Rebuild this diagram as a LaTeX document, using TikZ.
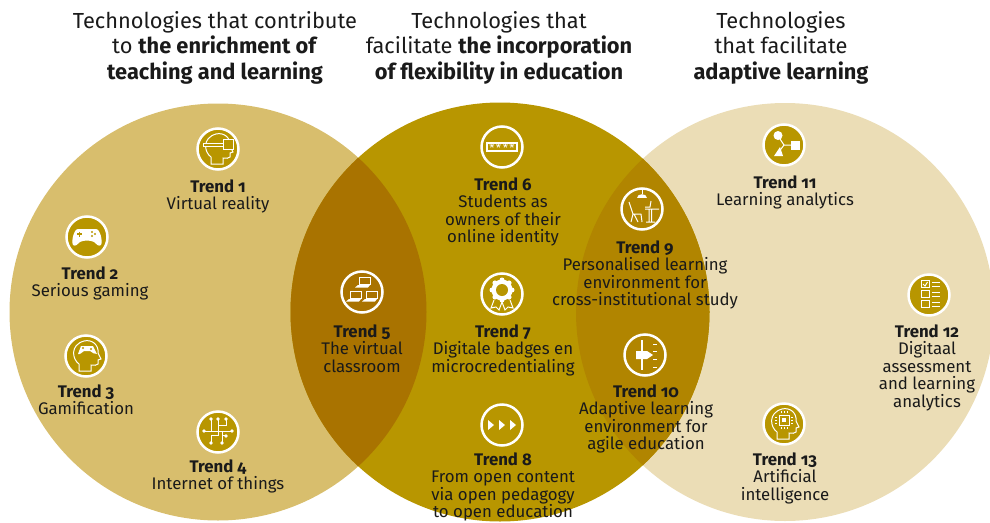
\documentclass[tikz,border=0pt]{standalone}
\usepackage{fontspec}
\setmainfont[Numbers=OldStyle]{Fira Sans}
\definecolor{goldl}{HTML}{D8BE6D}
\definecolor{goldm}{HTML}{B89600}
\definecolor{goldr}{HTML}{EBDDB6}
\definecolor{overl}{HTML}{A97300}
\definecolor{overr}{HTML}{B18500}
\definecolor{inkc}{HTML}{1A1A1A}
\newcommand{\headshape}{(-7,15) -- (-7,8) .. controls (-14,3) and (-16,-11) .. (-2,-15) .. controls (6,-17) and (13,-11) .. (12,-3) -- (15,3) -- (12,4) -- (12,8) .. controls (11,10) and (8,9) .. (5,9) -- (5,15) -- cycle}
\begin{document}
\begin{tikzpicture}[x=1pt,y=-1pt,
  lab/.style={anchor=north,align=center,inner sep=0pt,text=inkc,font=\fontsize{16.8}{17.5}\selectfont},
  title/.style={anchor=north,align=center,inner sep=0pt,text=inkc,font=\fontsize{21.8}{25.5}\selectfont},
  icon/.style={circle,draw=white,line width=2.5pt,minimum size=41pt,inner sep=0pt},
  wl/.style={draw=white,line width=1pt},
  wf/.style={fill=white}]
  \useasboundingbox (0,0) rectangle (990,522);

  % the three circles
  \fill[goldr] (785,312) circle (209pt);
  \fill[goldl] (218,312) circle (208.5pt);
  \fill[goldm] (500,312) circle (209.5pt);
  \begin{scope}
    \clip (218,312) circle (208.5pt);
    \fill[overl] (500,312) circle (209.5pt);
  \end{scope}
  \begin{scope}
    \clip (785,312) circle (209pt);
    \fill[overr] (500,312) circle (209.5pt);
  \end{scope}

  % titles
  \node[title] (h1) at (215,11) {Technologies that contribute\\to \textbf{the enrichment of}\\\textbf{teaching and learning}};
  \node[title] (h2) at (499,11) {Technologies that\\facilitate \textbf{the incorporation}\\\textbf{of flexibility in education}};
  \node[title] (h3) at (781,11) {Technologies\\that facilitate\\\textbf{adaptive learning}};

  % icon circles
  \node[icon,fill=goldm] (i1) at (218,149) {};
  \node[icon,fill=goldm] (i2) at (87,237) {};
  \node[icon,fill=goldm] (i3) at (86,356) {};
  \node[icon,fill=goldm] (i4) at (218,432) {};
  \node[icon,fill=overl] (i5) at (362,292) {};
  \node[icon,fill=goldm] (i6) at (502,147) {};
  \node[icon,fill=goldm] (i7) at (502,294) {};
  \node[icon,fill=goldm] (i8) at (502,425) {};
  \node[icon,fill=overr] (i9) at (642,209) {};
  \node[icon,fill=overr] (i10) at (645,355) {};
  \node[icon,fill=goldm] (i11) at (784,145) {};
  \node[icon,fill=goldm] (i12) at (929,295) {};
  \node[icon,fill=goldm] (i13) at (784,424) {};

  % labels
  \node[lab] (t1) at (218,179.5) {\textbf{Trend 1}\\Virtual reality};
  \node[lab] (t2) at (90,266.5) {\textbf{Trend 2}\\Serious gaming};
  \node[lab] (t3) at (86,384.5) {\textbf{Trend 3}\\Gamification};
  \node[lab] (t4) at (218,459.5) {\textbf{Trend 4}\\Internet of things};
  \node[lab] (t5) at (362,324.5) {\textbf{Trend 5}\\The virtual\\classroom};
  \node[lab] (t6) at (503,177.5) {\textbf{Trend 6}\\Students as\\owners of their\\online identity};
  \node[lab] (t7) at (503,324.5) {\textbf{Trend 7}\\Digitale badges en\\microcredentialing};
  \node[lab] (t8) at (503,452.5) {\textbf{Trend 8}\\From open content\\via open pedagogy\\to open education};
  \node[lab] (t9) at (645,240.5) {\textbf{Trend 9}\\Personalised learning\\environment for\\cross-institutional study};
  \node[lab] (t10) at (646,384.5) {\textbf{Trend 10}\\Adaptive learning\\environment for\\agile education};
  \node[lab] (t11) at (785,175.5) {\textbf{Trend 11}\\Learning analytics};
  \node[lab] (t12) at (927,324.5) {\textbf{Trend 12}\\Digitaal\\assessment\\and learning\\analytics};
  \node[lab] (t13) at (785,452.5) {\textbf{Trend 13}\\Artificial\\intelligence};

  % icon 1: head with visor
  \begin{scope}[shift={(i1.center)}]
    \draw[wl] \headshape;
    \draw[wl,fill=goldm] (-15,-6) -- (5,-6) -- (5,-3) -- (-15,-3) -- cycle;
    \draw[wl,fill=goldm] (5,-10) rectangle (15,0);
  \end{scope}

  % icon 2: game controller
  \begin{scope}[shift={(i2.center)}]
    \fill[wf] (-9,-8) -- (9,-8) .. controls (13,-8) and (16,4) .. (14,8) .. controls (12,10) and (9,7) .. (7,5) .. controls (3,3) and (-3,3) .. (-7,5) .. controls (-9,7) and (-12,10) .. (-14,8) .. controls (-16,4) and (-13,-8) .. (-9,-8) -- cycle;
    \draw[goldm,line width=1.3pt] (-10,-3) -- (-5,-3) (-7.5,-5.5) -- (-7.5,-0.5);
    \foreach \dx/\dy in {5/-5,8/-3,5/-1}
      \fill[goldm] (\dx,\dy) circle (1.1pt);
  \end{scope}

  % icon 3: head with controller
  \begin{scope}[shift={(i3.center)}]
    \draw[wl] \headshape;
    \fill[wf] (-5,-10) -- (7,-10) -- (11,-2) .. controls (8,-1) and (7,-4) .. (4,-5) -- (-2,-5) .. controls (-4,-4) and (-6,-1) .. (-8,-2) -- cycle;
    \fill[goldm] (-3,-8) circle (1.2pt) (5,-7) circle (1.2pt);
  \end{scope}

  % icon 4: circuit
  \begin{scope}[shift={(i4.center)}]
    \draw[wl] (-14,-1) -- (14,-1);
    \draw[wl] (-7,-13) -- (-7,-1) (0,-13) -- (0,-1) (8,-13) -- (8,-7) -- (0,-7);
    \draw[wl] (0,-1) -- (0,3) -- (-7,3) -- (-7,11) (4,-1) -- (4,11) (4,3) -- (8,3);
    \foreach \dx/\dy in {-7/-13,0/-13,8/-13,-14/-1,14/-1,-7/11,4/11,8/4}
      \fill[wf] (\dx,\dy) circle (1.8pt);
  \end{scope}

  % icon 5: three laptops
  \begin{scope}[shift={(i5.center)}]
    \foreach \dx/\dy in {2/-15,-7/-1,9/-1} {
      \draw[wl] (\dx-5,\dy) rectangle (\dx+6,\dy+7);
      \fill[wf] (\dx-6,\dy+8) -- (\dx+6,\dy+8) -- (\dx+4,\dy+10.5) -- (\dx-9,\dy+10.5) -- cycle;
    }
  \end{scope}

  % icon 6: box with stars
  \begin{scope}[shift={(i6.center)}]
    \draw[white,line width=1.3pt] (-15,-4) rectangle (15,4);
    \foreach \dx in {-10,-3.5,3.5,10}
      \node[font=\fontsize{12}{12}\selectfont,text=white,inner sep=0pt] (s\dx) at (\dx,1.5) {*};
  \end{scope}

  % icon 7: badge
  \begin{scope}[shift={(i7.center)}]
    \draw[wl,fill=goldm] (-8,6) -- (-11,14) -- (-6,13) -- (-3,16) -- (0,8) (8,6) -- (11,14) -- (6,13) -- (3,16) -- (0,8);
    \fill[wf] (0,-4) circle (10.5pt);
    \foreach \a in {0,45,...,315}
      \fill[wf] (\a:10pt) ++(0,-4) circle (2.5pt);
    \fill[goldm] (0,-4) circle (6pt);
  \end{scope}

  % icon 8: three arrows
  \begin{scope}[shift={(i8.center)}]
    \foreach \dx in {-11,0,11}
      \fill[wf] (\dx-3,-5) -- (\dx+3,0) -- (\dx-3,5) -- cycle;
  \end{scope}

  % icon 9: lamp, chair and table
  \begin{scope}[shift={(i9.center)}]
    \draw[wl] (0,-20) -- (0,-15);
    \fill[wf] (-5,-11) .. controls (-5,-16) and (5,-16) .. (5,-11) -- cycle;
    \draw[wl] (-13,-7) -- (-9,5) -- (-1,5) (-9,5) -- (-11,13) (-1,5) -- (0,13) (-8,5) -- (-4,13);
    \draw[wl] (3,0) -- (17,0) (7,0) -- (7,13) (9.5,0) -- (9.5,13) (4,13) -- (13,13) (3,-2) -- (8,-2) -- (9,-8);
  \end{scope}

  % icon 10: arrow on a line
  \begin{scope}[shift={(i10.center)}]
    \draw[white,line width=1.6pt] (-3,-15) -- (-3,15);
    \fill[wf] (-9,-4) -- (2,-4) -- (8,0) -- (2,4) -- (-9,4) -- cycle;
    \foreach \dy in {-11,-4,4,12}
      \draw[white,line width=1pt] (8,\dy) -- (12,\dy);
  \end{scope}

  % icon 11: circle, square and triangle
  \begin{scope}[shift={(i11.center)}]
    \draw[wl] (-6,-9) -- (0,0) -- (-6,8) (0,0) -- (10,0);
    \fill[wf] (-6,-9.5) circle (4.5pt);
    \fill[wf] (7,-4.5) rectangle (16,4.5);
    \fill[wf] (-10,11) -- (-1,11) -- (-4,2) -- cycle;
  \end{scope}

  % icon 12: check list
  \begin{scope}[shift={(i12.center)}]
    \foreach \dy in {-11,-1,9} {
      \draw[wl] (-8,\dy-3.5) rectangle (0,\dy+3.5);
      \draw[wl] (3,\dy-2) -- (11,\dy-2) (3,\dy+2) -- (11,\dy+2);
    }
    \draw[wl] (-6,-11) -- (-4,-9) -- (-1.5,-13);
  \end{scope}

  % icon 13: head with chip
  \begin{scope}[shift={(i13.center)}]
    \draw[wl] \headshape;
    \draw[wl] (-5,-9) rectangle (5,1);
    \fill[wf] (-2,-6) rectangle (2,-2);
    \foreach \dd in {-3,0,3} {
      \draw[white,line width=0.7pt] (\dd,-13) -- (\dd,-11) (\dd,3) -- (\dd,5);
      \draw[white,line width=0.7pt] (-9,\dd-4) -- (-7,\dd-4) (7,\dd-4) -- (9,\dd-4);
    }
  \end{scope}
\end{tikzpicture}
\end{document}
